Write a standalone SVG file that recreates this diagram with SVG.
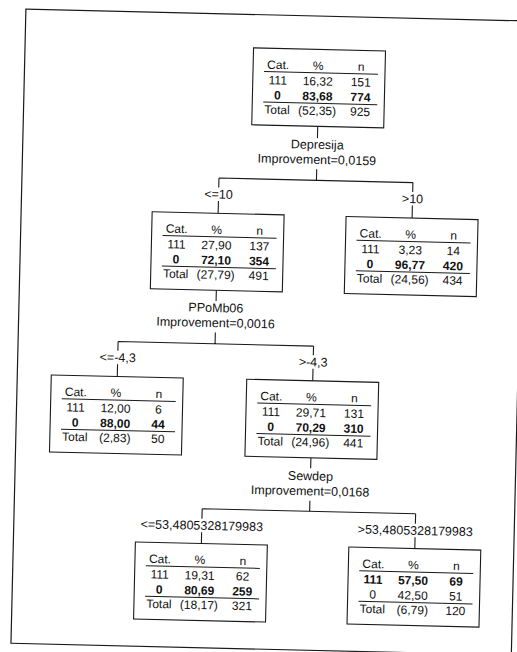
<svg xmlns="http://www.w3.org/2000/svg" width="517" height="652" viewBox="0 0 517 652">
<defs>
<style>
text{font-family:"Liberation Sans",Arial,sans-serif;font-size:12px;fill:#111;text-anchor:middle}
.lbl{font-size:12.5px}
.b{font-weight:bold}
.box{fill:#fff;stroke:#1a1a1a;stroke-width:1.1}
.rule{stroke:#1a1a1a;stroke-width:1}
.con{fill:none;stroke:#1a1a1a;stroke-width:1.1}
.frame{fill:none;stroke:#1a1a1a;stroke-width:1.2}
</style>
<g id="tbl">
<rect class="box" x="0" y="0" width="132" height="77"/>
<text x="25" y="20.5">Cat.</text><text x="65" y="20.5">%</text><text x="108" y="20.5">n</text>
<line class="rule" x1="11" y1="23.5" x2="125" y2="23.5"/>
<line class="rule" x1="11" y1="54" x2="125" y2="54"/>
</g>
</defs>
<rect width="517" height="652" fill="#fff"/>
<g transform="rotate(1.35 258 326)">
<rect class="frame" x="18.5" y="14.7" width="500.5" height="634.3"/>
<g id="connectors">
<path class="con" d="M313,125V137M313,168V179M215.5,179H409.5M215.5,179V188.5M409.5,179V188.5M215.5,202V214.3M409.5,202V214.5"/>
<path class="con" d="M215.5,291.3V302M215.5,333.5V344.8M118.5,344.8H314M118.5,344.8V354M314,344.8V354M118.5,367.5V379.8M314,367.5V379.5"/>
<path class="con" d="M314,456.5V467M314,499.5V510M206.5,510H420M206.5,510V520M420,510V520M206.5,533.5V544.8M420,533.5V544.8"/>
<text class="lbl" x="313" y="147.5">Depresija</text>
<text class="lbl" x="313" y="162.5">Improvement=0,0159</text>
<text class="lbl" x="215.5" y="199.5">&lt;=10</text>
<text class="lbl" x="409.5" y="199.5">&gt;10</text>
<text class="lbl" x="215.5" y="313">PPoMb06</text>
<text class="lbl" x="215.5" y="328">Improvement=0,0016</text>
<text class="lbl" x="118.5" y="365">&lt;=-4,3</text>
<text class="lbl" x="314" y="365">&gt;-4,3</text>
<text class="lbl" x="314" y="479">Sewdep</text>
<text class="lbl" x="314" y="494">Improvement=0,0168</text>
<text class="lbl" x="206.5" y="531">&lt;=53,4805328179983</text>
<text class="lbl" x="420" y="531">&gt;53,4805328179983</text>
</g>
<g id="node0" transform="translate(247,48)">
<use href="#tbl"/>
<text x="25" y="36">111</text><text x="65" y="36">16,32</text><text x="108" y="36">151</text>
<text class="b" x="25" y="51">0</text><text class="b" x="65" y="51">83,68</text><text class="b" x="108" y="51">774</text>
<text x="25" y="65.5">Total</text><text x="65" y="65.5">(52,35)</text><text x="108" y="65.5">925</text>
</g>
<g id="node1" transform="translate(149.5,214.3)">
<use href="#tbl"/>
<text x="25" y="36">111</text><text x="65" y="36">27,90</text><text x="108" y="36">137</text>
<text class="b" x="25" y="51">0</text><text class="b" x="65" y="51">72,10</text><text class="b" x="108" y="51">354</text>
<text x="25" y="65.5">Total</text><text x="65" y="65.5">(27,79)</text><text x="108" y="65.5">491</text>
</g>
<g id="node2" transform="translate(343.5,214.5)">
<use href="#tbl"/>
<text x="25" y="36">111</text><text x="65" y="36">3,23</text><text x="108" y="36">14</text>
<text class="b" x="25" y="51">0</text><text class="b" x="65" y="51">96,77</text><text class="b" x="108" y="51">420</text>
<text x="25" y="65.5">Total</text><text x="65" y="65.5">(24,56)</text><text x="108" y="65.5">434</text>
</g>
<g id="node3" transform="translate(52.5,379.8)">
<use href="#tbl"/>
<text x="25" y="36">111</text><text x="65" y="36">12,00</text><text x="108" y="36">6</text>
<text class="b" x="25" y="51">0</text><text class="b" x="65" y="51">88,00</text><text class="b" x="108" y="51">44</text>
<text x="25" y="65.5">Total</text><text x="65" y="65.5">(2,83)</text><text x="108" y="65.5">50</text>
</g>
<g id="node4" transform="translate(248,379.5)">
<use href="#tbl"/>
<text x="25" y="36">111</text><text x="65" y="36">29,71</text><text x="108" y="36">131</text>
<text class="b" x="25" y="51">0</text><text class="b" x="65" y="51">70,29</text><text class="b" x="108" y="51">310</text>
<text x="25" y="65.5">Total</text><text x="65" y="65.5">(24,96)</text><text x="108" y="65.5">441</text>
</g>
<g id="node5" transform="translate(140.5,544.8)">
<use href="#tbl"/>
<text x="25" y="36">111</text><text x="65" y="36">19,31</text><text x="108" y="36">62</text>
<text class="b" x="25" y="51">0</text><text class="b" x="65" y="51">80,69</text><text class="b" x="108" y="51">259</text>
<text x="25" y="65.5">Total</text><text x="65" y="65.5">(18,17)</text><text x="108" y="65.5">321</text>
</g>
<g id="node6" transform="translate(354,544.8)">
<use href="#tbl"/>
<text class="b" x="25" y="36">111</text><text class="b" x="65" y="36">57,50</text><text class="b" x="108" y="36">69</text>
<text x="25" y="51">0</text><text x="65" y="51">42,50</text><text x="108" y="51">51</text>
<text x="25" y="65.5">Total</text><text x="65" y="65.5">(6,79)</text><text x="108" y="65.5">120</text>
</g>
</g>
</svg>
